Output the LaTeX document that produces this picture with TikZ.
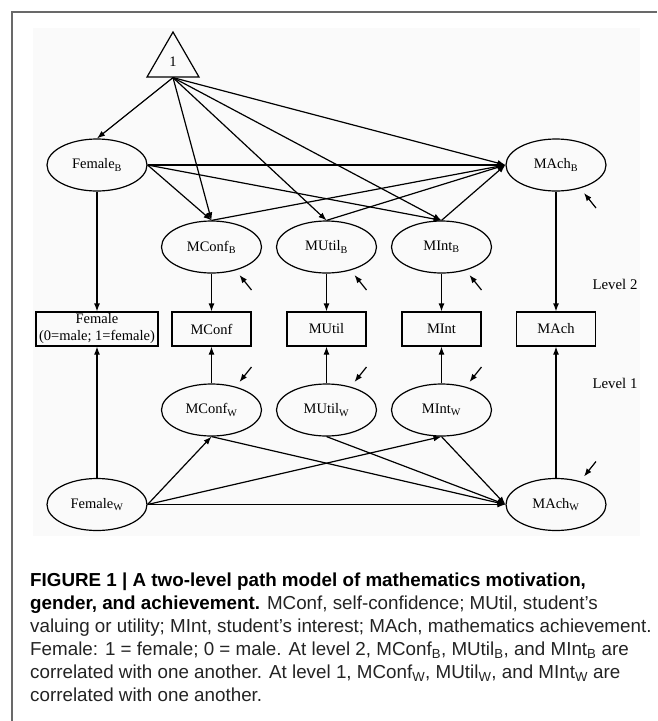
\documentclass[tikz,border=0pt]{standalone}
\usepackage{fontspec}
\setmainfont{Liberation Serif}
\newfontfamily\capsans{Liberation Sans}
\usetikzlibrary{shapes.geometric,arrows.meta,positioning}

\begin{document}
\begin{tikzpicture}[x=1pt,y=-1pt,
    latent/.style={shape=ellipse,draw,line width=1.2pt,minimum width=100pt,minimum height=52pt,inner sep=0pt,font=\fontsize{14.5}{17}\selectfont},
    observed/.style={shape=rectangle,draw,line width=1.2pt,minimum width=79pt,minimum height=34pt,inner sep=0pt,font=\fontsize{14.5}{17}\selectfont},
    effect/.style={-{Latex[length=8pt,width=6pt]},line width=1.2pt},
    levellabel/.style={font=\fontsize{14.8}{17}\selectfont}]
    \definecolor{pm_frame}{RGB}{105,105,105}
    \definecolor{pm_bg}{RGB}{250,250,250}
    \definecolor{pm_text}{RGB}{35,35,35}
    \useasboundingbox (0,0) rectangle (657,721);
    \fill[pm_bg] (33,28) rectangle (640,536);
    \draw[pm_frame,line width=1.3pt] (12,721) -- (12,12) -- (657,12);
    \node[shape=regular polygon,regular polygon sides=3,draw,line width=1.2pt,minimum size=60pt,inner sep=0pt,font=\fontsize{14.5}{17}\selectfont] (one) at (173,62) {\raisebox{-4pt}{1}};
    \node[latent] (fem_b)   at (97,165)    {Female\textsubscript{B}};
    \node[latent] (mach_b)  at (556,165)   {MAch\textsubscript{B}};
    \node[latent] (mconf_b) at (211.5,247) {MConf\textsubscript{B}};
    \node[latent] (mutil_b) at (326.5,247) {MUtil\textsubscript{B}};
    \node[latent] (mint_b)  at (441.5,247) {MInt\textsubscript{B}};
    \node[observed,minimum width=122pt,align=center] (fem_o) at (97,329) {Female\\(0=male; 1=female)};
    \node[observed] (mconf_o) at (211.5,329) {MConf};
    \node[observed] (mutil_o) at (326.5,329) {MUtil};
    \node[observed] (mint_o)  at (441.5,329) {MInt};
    \node[observed] (mach_o)  at (556,329)   {MAch};
    \node[latent] (mconf_w) at (211.5,410) {MConf\textsubscript{W}};
    \node[latent] (mutil_w) at (326.5,410) {MUtil\textsubscript{W}};
    \node[latent] (mint_w)  at (441.5,410) {MInt\textsubscript{W}};
    \node[latent] (fem_w)   at (97,504.5)  {Female\textsubscript{W}};
    \node[latent] (mach_w)  at (556,504.5) {MAch\textsubscript{W}};
    \node[levellabel] (lev2) at (615,284) {Level 2};
    \node[levellabel] (lev1) at (615,383) {Level 1};
    \foreach \t in {fem_b,mconf_b,mutil_b,mint_b}
        \draw[effect] (one.south) -- (\t.north);
    \draw[effect] (one.south) -- (mach_b.west);
    \draw[effect] (fem_b.east) -- (mach_b.west);
    \draw[effect] (fem_b.east) -- (mconf_b.north);
    \draw[effect] (fem_b.east) -- (mint_b.north);
    \foreach \s in {mconf_b,mutil_b,mint_b}
        \draw[effect] (\s.north) -- (mach_b.west);
    \foreach \s/\t in {fem_b/fem_o,mconf_b/mconf_o,mutil_b/mutil_o,mint_b/mint_o,mach_b/mach_o}
        \draw[effect] (\s.south) -- (\t.north);
    \foreach \s/\t in {fem_w/fem_o,mconf_w/mconf_o,mutil_w/mutil_o,mint_w/mint_o,mach_w/mach_o}
        \draw[effect] (\s.north) -- (\t.south);
    \draw[effect] (fem_w.east) -- (mach_w.west);
    \draw[effect] (fem_w.east) -- (mconf_w.south);
    \draw[effect] (fem_w.east) -- (mint_w.south);
    \foreach \s in {mconf_w,mutil_w,mint_w}
        \draw[effect] (\s.south) -- (mach_w.west);
    \foreach \n in {mconf_b,mutil_b,mint_b,mach_b}
        \draw[effect] ([shift={(40,43)}]\n.center) -- ([shift={(28,28)}]\n.center);
    \foreach \n in {mconf_w,mutil_w,mint_w,mach_w}
        \draw[effect] ([shift={(40,-43)}]\n.center) -- ([shift={(28,-28)}]\n.center);
    \node[anchor=north west,inner sep=0pt,align=left,text=pm_text,font=\capsans\fontsize{18.8}{23}\selectfont] (caption) at (30,573)
        {\textbf{\color{black}FIGURE 1 | A two-level path model of mathematics motivation,}\\
        \textbf{\color{black}gender, and achievement.} MConf, self-confidence; MUtil, student’s\\
        valuing or utility; MInt, student’s interest; MAch, mathematics achievement.\\
        Female: 1 = female; 0 = male. At level 2, MConf\textsubscript{B}, MUtil\textsubscript{B}, and MInt\textsubscript{B} are\\
        correlated with one another. At level 1, MConf\textsubscript{W}, MUtil\textsubscript{W}, and MInt\textsubscript{W} are\\
        correlated with one another.};
\end{tikzpicture}
\end{document}
